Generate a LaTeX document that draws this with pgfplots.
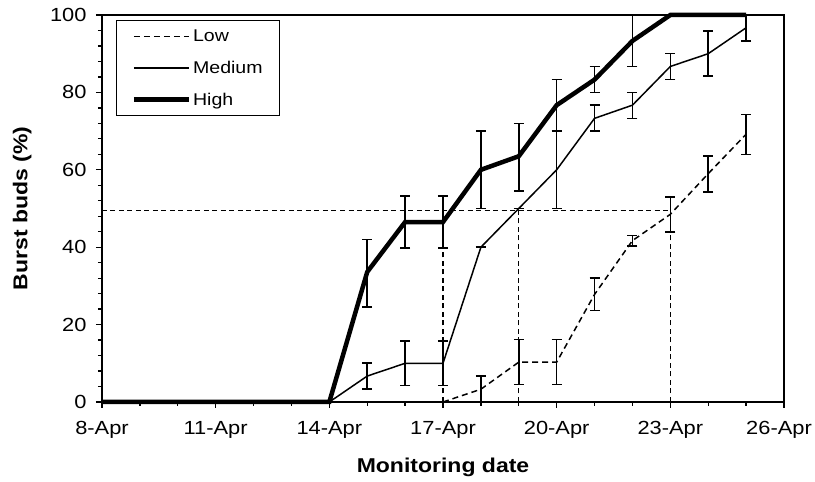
\documentclass[border=0pt]{standalone}
\usepackage{fontspec}
\setmainfont[FakeStretch=1.15]{Liberation Sans}
\usepackage{pgfplots}
\pgfplotsset{compat=1.18}
\begin{document}
\begin{tikzpicture}
\path[use as bounding box] (-102pt,-80pt) rectangle (713pt,402pt);
\begin{axis}[
  at={(0pt,0pt)}, anchor=south west,
  scale only axis, width=682pt, height=387pt,
  xmin=0, xmax=18, ymin=0, ymax=100,
  xtick={0,3,...,18},
  xticklabels={8-Apr,11-Apr,14-Apr,17-Apr,20-Apr,23-Apr,\hspace*{-10pt}26-Apr},
  minor x tick num=2,
  ytick={0,20,...,100},
  minor y tick num=4,
  tick align=outside,
  major tick length=6pt, minor tick length=4pt,
  every tick/.style={black, line width=1.3pt},
  axis line style={line width=1.5pt},
  axis x line*=bottom, axis y line*=left,
  /pgf/number format/assume math mode=true,
  ticklabel style={font=\fontsize{19}{22}\selectfont},
  yticklabel style={xshift=-6pt},
  xticklabel style={yshift=-10pt},
  xlabel={\textbf{Monitoring date}},
  ylabel={\textbf{Burst buds (\%)}},
  label style={font=\fontsize{20}{24}\selectfont},
  xlabel style={at={(axis description cs:0.5,-0.168)}, anchor=center},
  ylabel style={at={(axis description cs:-0.117,0.5)}, anchor=center, rotate=0},
  legend style={at={(axis description cs:0.0205,0.987)}, anchor=north west,
    draw=black, line width=1.3pt, font=\fontsize{17}{20}\selectfont,
    inner xsep=15pt, inner ysep=7pt, row sep=14pt},
  legend cell align=left,
  legend image code/.code={\draw[#1] (0pt,0pt) -- (55pt,0pt);},
  clip=false,
]
% reference lines
\addplot[forget plot, black, line width=1.2pt, dash pattern=on 5pt off 3.5pt] coordinates {(0,49.5) (15,49.5)};
\addplot[forget plot, black, line width=1.2pt, dash pattern=on 5pt off 3.5pt] coordinates {(9,0) (9,49.5)};
\addplot[forget plot, black, line width=1.2pt, dash pattern=on 5pt off 3.5pt] coordinates {(11,0) (11,49.5)};
\addplot[forget plot, black, line width=1.2pt, dash pattern=on 5pt off 3.5pt] coordinates {(15,0) (15,49.5)};
% Low
\addplot[black, line width=1.5pt, dash pattern=on 6pt off 4pt, no markers,
  error bars/.cd, y dir=both, y explicit,
  error bar style={line width=1.6pt, solid},
  error mark options={rotate=90, mark size=5pt, line width=1.6pt, solid}]
 coordinates {
 (9,0) +- (0,0)
 (10,3.3) += (0,3.4) -= (0,3.3)
 (11,10.3) += (0,5.9) -= (0,5.8)
 (12,10.3) += (0,5.9) -= (0,5.8)
 (13,27.8) += (0,4.2) -= (0,4.2)
 (14,41.7) += (0,1.3) -= (0,1.4)
 (15,48.5) += (0,4.5) -= (0,4.5)
 (16,59) += (0,4.6) -= (0,4.8)
 (17,69.2) += (0,5.1) -= (0,5.2)
 };
\addlegendentry{Low}
% Medium
\addplot[black, line width=1.5pt, no markers,
  error bars/.cd, y dir=both, y explicit,
  error bar style={line width=1.6pt},
  error mark options={rotate=90, mark size=5pt, line width=1.6pt}]
 coordinates {
 (0,0) +- (0,0) (1,0) +- (0,0) (2,0) +- (0,0) (3,0) +- (0,0)
 (4,0) +- (0,0) (5,0) +- (0,0) (6,0) +- (0,0)
 (7,6.7) += (0,3.3) -= (0,3.4)
 (8,10) += (0,5.7) -= (0,5.7)
 (9,10) += (0,5.7) -= (0,5.7)
 (10,40) +- (0,0)
 (11,50) +- (0,0)
 (12,60) += (0,10) -= (0,10)
 (13,73.3) += (0,3.4) -= (0,3.3)
 (14,76.7) += (0,3.3) -= (0,3.4)
 (15,86.7) += (0,3.3) -= (0,3.4)
 (16,90) += (0,5.8) -= (0,5.8)
 (17,96.7) += (0,3.3) -= (0,3.4)
 };
\addlegendentry{Medium}
% High
\addplot[black, line width=4.5pt, no markers,
  error bars/.cd, y dir=both, y explicit,
  error bar style={line width=1.6pt},
  error mark options={rotate=90, mark size=5pt, line width=1.6pt}]
 coordinates {
 (0,0) +- (0,0) (1,0) +- (0,0) (2,0) +- (0,0) (3,0) +- (0,0)
 (4,0) +- (0,0) (5,0) +- (0,0) (6,0) +- (0,0)
 (7,33.6) += (0,8.4) -= (0,9.1)
 (8,46.5) += (0,6.7) -= (0,6.7)
 (9,46.5) += (0,6.7) -= (0,6.7)
 (10,60) += (0,10) -= (0,10)
 (11,63.5) += (0,8.5) -= (0,9)
 (12,76.7) += (0,6.6) -= (0,6.7)
 (13,83.3) += (0,3.4) -= (0,3.3)
 (14,93.3) += (0,6.7) -= (0,6.6)
 (15,100) +- (0,0)
 (16,100) +- (0,0)
 (17,100) +- (0,0)
 };
\addlegendentry{High}
% box top and right
\draw[line width=1.5pt] (axis cs:0,100) -- (axis cs:18,100) -- (axis cs:18,0);
\end{axis}
\end{tikzpicture}
\end{document}
